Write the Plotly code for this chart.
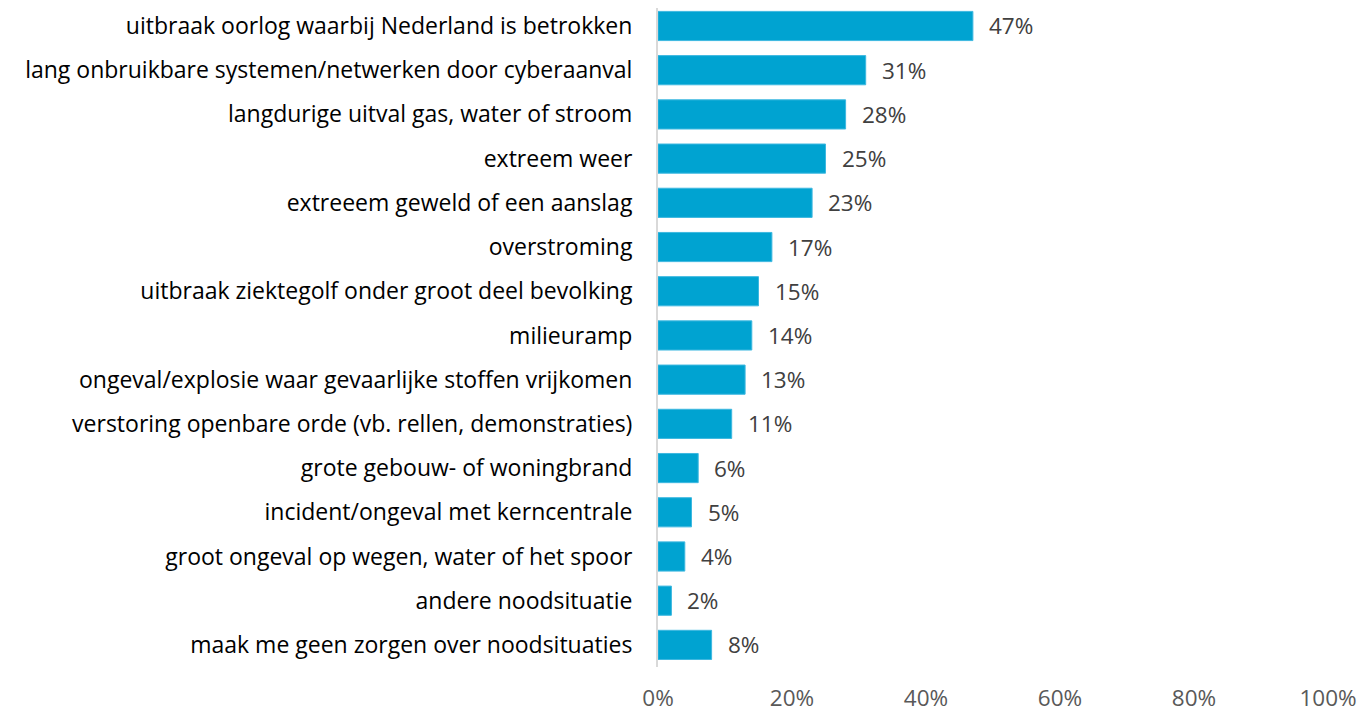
import plotly.graph_objects as go

categories = [
    "uitbraak oorlog waarbij Nederland is betrokken",
    "lang onbruikbare systemen/netwerken door cyberaanval",
    "langdurige uitval gas, water of stroom",
    "extreem weer",
    "extreeem geweld of een aanslag",
    "overstroming",
    "uitbraak ziektegolf onder groot deel bevolking",
    "milieuramp",
    "ongeval/explosie waar gevaarlijke stoffen vrijkomen",
    "verstoring openbare orde (vb. rellen, demonstraties)",
    "grote gebouw- of woningbrand",
    "incident/ongeval met kerncentrale",
    "groot ongeval op wegen, water of het spoor",
    "andere noodsituatie",
    "maak me geen zorgen over noodsituaties",
]
values = [47, 31, 28, 25, 23, 17, 15, 14, 13, 11, 6, 5, 4, 2, 8]
tick_vals = [0, 20, 40, 60, 80, 100]
tick_text = ["0%", "20%", "40%", "60%", "80%", "100%"]

FONT = "'Open Sans', sans-serif"

fig = go.Figure()
fig.add_trace(go.Bar(
    y=categories, x=values, orientation="h",
    marker=dict(color="#00A3D1", line=dict(color="#3DB8E0", width=1)),
    width=0.66, hoverinfo="x+y",
))
for c, v in zip(categories, values):
    fig.add_annotation(x=v, y=c, text=f"{v}%", showarrow=False,
                       xanchor="left", xshift=14,
                       font=dict(family=FONT, size=22.5, color="#404040"))

fig.update_layout(
    width=1358, height=704,
    margin=dict(l=650, r=38, t=0, b=45, autoexpand=False),
    paper_bgcolor="white", plot_bgcolor="white",
    showlegend=False,
    font=dict(family=FONT, size=23, color="#000000"),
    xaxis=dict(range=[0, 100], tickvals=tick_vals, ticktext=tick_text,
               showgrid=False, zeroline=False, showline=False,
               tickfont=dict(family=FONT, size=22.5, color="#595959"),
               ticks="", ticklabelstandoff=15),
    yaxis=dict(categoryorder="array", categoryarray=categories,
               range=[14.5, -0.407], showgrid=False, zeroline=False,
               showline=True, linecolor="#D9D9D9", linewidth=2,
               ticks="", ticklabelstandoff=19,
               tickfont=dict(family=FONT, size=23, color="#000000")),
)
fig.write_html("out.html")
